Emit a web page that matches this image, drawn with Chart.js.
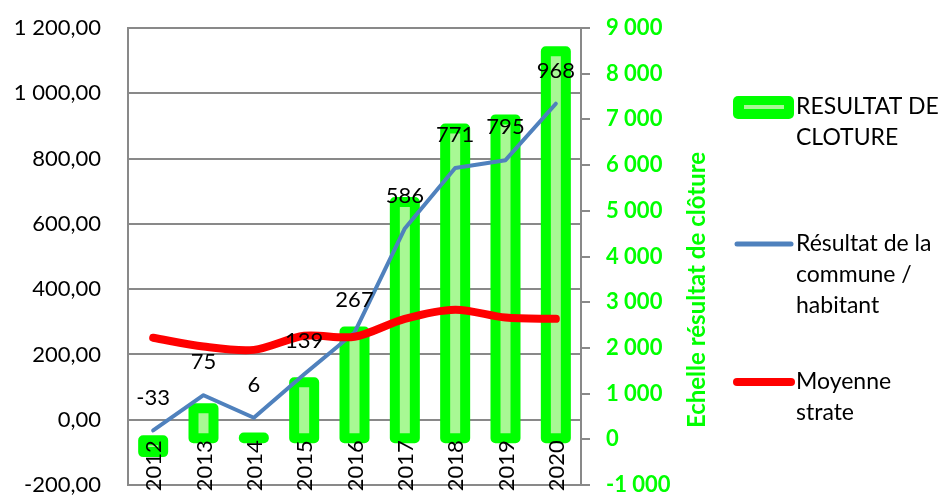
<!DOCTYPE html>
<html>
<head>
<meta charset="utf-8">
<script src="https://cdn.jsdelivr.net/npm/chart.js@4"></script>
<style>
  html, body { margin: 0; padding: 0; background: #fff; }
  #wrap { width: 944px; height: 498px; }
</style>
</head>
<body>
<div id="wrap"><canvas id="chart" width="944" height="498"></canvas></div>
<script>
/* DATA */
const years = ["2012", "2013", "2014", "2015", "2016", "2017", "2018", "2019", "2020"];
const resultatCloture = [-280, 680, 40, 1250, 2360, 5190, 6800, 7000, 8490];
const resultatHabitant = [-33, 75, 6, 139, 267, 586, 771, 795, 968];
const moyenneStrate = [251, 224, 214, 257, 254, 309, 337, 313, 309];

const GREEN = "#00ff00";
const LIGHT = "#a8f894";
const GRID = "#898989";

Chart.defaults.font.family = "Lato";
Chart.defaults.font.size = 22;
Chart.defaults.color = "#000";

/* french number format: 1 200,00 */
function frNum(v, dec) {
    const s = Math.abs(v).toFixed(dec);
    const parts = s.split(".");
    const int = parts[0].replace(/\B(?=(\d{3})+(?!\d))/g, " ");
    return (v < 0 ? "-" : "") + int + (parts[1] ? "," + parts[1] : "");
}

/* thick rounded outline round the bars, like the excel border */
const barOutline = {
    id: "barOutline",
    afterDatasetDraw(chart, args) {
        if (args.meta.type !== "bar") return;
        const ctx = chart.ctx;
        ctx.save();
        ctx.strokeStyle = GREEN;
        ctx.lineWidth = 10;
        ctx.lineJoin = "round";
        args.meta.data.forEach(el => {
            const p = el.getProps(["x", "y", "base", "width"], true);
            ctx.strokeRect(p.x - p.width / 2, Math.min(p.y, p.base), p.width, Math.abs(p.base - p.y));
        });
        ctx.restore();
    }
};

/* value labels above the blue line + category labels + axis title + legend */
const extras = {
    id: "extras",
    afterDatasetsDraw(chart) {
        const ctx = chart.ctx;
        const meta = chart.getDatasetMeta(1);
        ctx.save();
        ctx.font = "22px Lato";
        ctx.fillStyle = "#000";
        ctx.textAlign = "center";
        ctx.textBaseline = "middle";
        meta.data.forEach((pt, i) => {
            ctx.fillText(String(resultatHabitant[i]), pt.x, pt.y - 33);
        });

        // category labels, rotated, hanging below the secondary zero
        const xs = chart.scales.x;
        const y0 = chart.scales.y1.getPixelForValue(0);
        ctx.textAlign = "right";
        years.forEach((yr, i) => {
            ctx.save();
            ctx.translate(xs.getPixelForValue(i) + 1, y0 + 1);
            ctx.rotate(-Math.PI / 2);
            ctx.fillText(yr, 0, 0);
            ctx.restore();
        });
        ctx.restore();
    },
    afterDraw(chart) {
        const ctx = chart.ctx;
        const area = chart.chartArea;
        const y1 = chart.scales.y1;
        ctx.save();

        // short outward tick marks on the right axis
        ctx.strokeStyle = GRID;
        ctx.lineWidth = 2;
        y1.ticks.forEach(t => {
            const py = Math.round(y1.getPixelForValue(t.value));
            ctx.beginPath();
            ctx.moveTo(area.right, py);
            ctx.lineTo(area.right + 9, py);
            ctx.stroke();
        });

        // right axis title
        ctx.font = "bold 24px Lato";
        ctx.fillStyle = GREEN;
        ctx.textAlign = "center";
        ctx.textBaseline = "middle";
        ctx.translate(area.right + 116, 290);
        ctx.rotate(-Math.PI / 2);
        ctx.fillText("Echelle résultat de clôture", 0, 0);
        ctx.setTransform(1, 0, 0, 1, 0, 0);

        // legend
        const lx = 733, tx = 796, lineH = 31, maxW = 148;
        const tops = [107, 244, 382];
        ctx.font = "23px Lato";
        ctx.fillStyle = "#000";
        ctx.textAlign = "left";
        chart.data.datasets.forEach((ds, i) => {
            const y = tops[i];
            if (ds.type === "bar") {
                ctx.fillStyle = GREEN;
                ctx.beginPath();
                ctx.roundRect(lx, y - 11, 61, 23, 5);
                ctx.fill();
                ctx.strokeStyle = LIGHT;
                ctx.lineWidth = 4;
                ctx.beginPath();
                ctx.moveTo(lx + 11, y);
                ctx.lineTo(lx + 51, y);
                ctx.stroke();
            } else {
                ctx.strokeStyle = ds.borderColor;
                ctx.lineWidth = ds.legendWidth;
                ctx.lineCap = "round";
                ctx.beginPath();
                ctx.moveTo(lx + 4, y);
                ctx.lineTo(lx + 58, y);
                ctx.stroke();
            }
            // word wrap
            const words = ds.label.split(" ");
            const lines = [];
            let cur = "";
            words.forEach(w => {
                const test = cur ? cur + " " + w : w;
                if (ctx.measureText(test).width > maxW && cur) {
                    lines.push(cur);
                    cur = w;
                } else {
                    cur = test;
                }
            });
            lines.push(cur);
            ctx.fillStyle = "#000";
            lines.forEach((l, k) => ctx.fillText(l, tx, y + k * lineH));
        });
        ctx.restore();
    }
};

new Chart(document.getElementById("chart"), {
    data: {
        labels: years,
        datasets: [{
            type: "bar",
            label: "RESULTAT DE CLOTURE",
            data: resultatCloture,
            yAxisID: "y1",
            backgroundColor: LIGHT,
            borderWidth: 0,
            barThickness: 20,
            order: 3
        }, {
            type: "line",
            label: "Résultat de la commune / habitant",
            data: resultatHabitant,
            yAxisID: "y",
            borderColor: "#4f81bd",
            borderWidth: 4,
            legendWidth: 5,
            borderCapStyle: "round",
            borderJoinStyle: "round",
            pointRadius: 0,
            tension: 0,
            order: 2
        }, {
            type: "line",
            label: "Moyenne strate",
            data: moyenneStrate,
            yAxisID: "y",
            borderColor: "#ff0000",
            borderWidth: 8,
            legendWidth: 8,
            borderCapStyle: "round",
            borderJoinStyle: "round",
            pointRadius: 0,
            tension: 0.3,
            order: 1
        }]
    },
    options: {
        responsive: false,
        animation: false,
        layout: { padding: { top: 28, bottom: 13, left: 0, right: 0 } },
        plugins: {
            legend: { display: false },
            tooltip: { enabled: false }
        },
        scales: {
            x: { display: false, offset: true },
            y: {
                position: "left",
                min: -200,
                max: 1200,
                ticks: {
                    stepSize: 200, padding: 0, color: "#000",
                    font: { lineHeight: 1.1 },
                    callback: v => frNum(v, 2)
                },
                grid: { color: GRID, lineWidth: 2, drawTicks: true, tickLength: 27, tickColor: "rgba(0,0,0,0)" },
                border: { color: GRID, width: 2 },
                afterFit: s => { s.width = 128; }
            },
            y1: {
                position: "right",
                min: -1000,
                max: 9000,
                ticks: {
                    stepSize: 1000, padding: 0, color: GREEN,
                    font: { weight: "bold", lineHeight: 1.1 },
                    callback: v => frNum(v, 0)
                },
                grid: {
                    drawOnChartArea: false, color: GRID, lineWidth: 2,
                    tickLength: 25, tickColor: "rgba(0,0,0,0)"
                },
                border: { color: GRID, width: 2 },
                afterFit: s => { s.width = 363; }
            }
        }
    },
    plugins: [barOutline, extras]
});
</script>
</body>
</html>
